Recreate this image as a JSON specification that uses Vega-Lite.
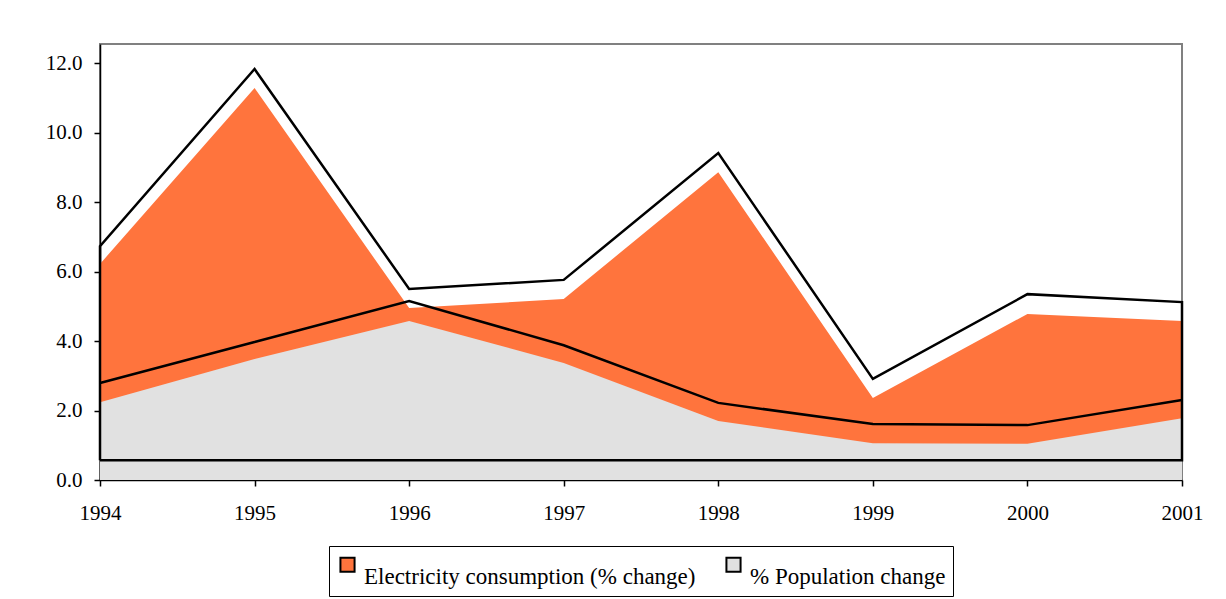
{
  "$schema": "https://vega.github.io/schema/vega-lite/v6.json",
  "width": 1082,
  "height": 436,
  "autosize": {"type": "none"},
  "padding": {"left": 100, "top": 44, "right": 44, "bottom": 119},
  "background": "white",
  "title": {"text": "(% change)", "font": "Liberation Serif", "fontSize": 21, "fontWeight": "bold", "anchor": "start", "dx": 372, "offset": 42, "baseline": "alphabetic", "color": "black"},
  "datasets": {
    "series": [
      {"year": 1994, "series": "Electricity consumption (% change)", "value": 6.22},
      {"year": 1995, "series": "Electricity consumption (% change)", "value": 11.28},
      {"year": 1996, "series": "Electricity consumption (% change)", "value": 4.95},
      {"year": 1997, "series": "Electricity consumption (% change)", "value": 5.21},
      {"year": 1998, "series": "Electricity consumption (% change)", "value": 8.86},
      {"year": 1999, "series": "Electricity consumption (% change)", "value": 2.36},
      {"year": 2000, "series": "Electricity consumption (% change)", "value": 4.78},
      {"year": 2001, "series": "Electricity consumption (% change)", "value": 4.58},
      {"year": 1994, "series": "% Population change", "value": 2.24},
      {"year": 1995, "series": "% Population change", "value": 3.48},
      {"year": 1996, "series": "% Population change", "value": 4.58},
      {"year": 1997, "series": "% Population change", "value": 3.37},
      {"year": 1998, "series": "% Population change", "value": 1.70},
      {"year": 1999, "series": "% Population change", "value": 1.06},
      {"year": 2000, "series": "% Population change", "value": 1.04},
      {"year": 2001, "series": "% Population change", "value": 1.78}
    ],
    "outline": [
      {"part": "elec", "ord": 0, "year": 1994, "value": 0.57},
      {"part": "elec", "ord": 1, "year": 1994, "value": 6.73},
      {"part": "elec", "ord": 2, "year": 1995, "value": 11.83},
      {"part": "elec", "ord": 3, "year": 1996, "value": 5.50},
      {"part": "elec", "ord": 4, "year": 1997, "value": 5.76},
      {"part": "elec", "ord": 5, "year": 1998, "value": 9.41},
      {"part": "elec", "ord": 6, "year": 1999, "value": 2.91},
      {"part": "elec", "ord": 7, "year": 2000, "value": 5.35},
      {"part": "elec", "ord": 8, "year": 2001, "value": 5.12},
      {"part": "elec", "ord": 9, "year": 2001, "value": 0.57},
      {"part": "elec", "ord": 10, "year": 1994, "value": 0.57},
      {"part": "pop", "ord": 0, "year": 1994, "value": 2.79},
      {"part": "pop", "ord": 1, "year": 1995, "value": 3.97},
      {"part": "pop", "ord": 2, "year": 1996, "value": 5.15},
      {"part": "pop", "ord": 3, "year": 1997, "value": 3.88},
      {"part": "pop", "ord": 4, "year": 1998, "value": 2.22},
      {"part": "pop", "ord": 5, "year": 1999, "value": 1.61},
      {"part": "pop", "ord": 6, "year": 2000, "value": 1.58},
      {"part": "pop", "ord": 7, "year": 2001, "value": 2.30}
    ]
  },
  "config": {
    "view": {"stroke": "#808080", "strokeWidth": 2},
    "axis": {"labelFont": "Liberation Serif", "labelFontSize": 21, "labelColor": "black", "domainColor": "black", "domainWidth": 1.5, "tickColor": "black", "tickWidth": 1.5, "grid": false, "title": null, "zindex": 1}
  },
  "layer": [
    {
      "data": {"name": "series"},
      "transform": [{"filter": "datum.series === 'Electricity consumption (% change)'"}],
      "mark": {"type": "area", "opacity": 1},
      "encoding": {
        "x": {"field": "year", "type": "quantitative", "scale": {"domain": [1994, 2001], "nice": false, "zero": false},
              "axis": {"values": [1994, 1995, 1996, 1997, 1998, 1999, 2000, 2001], "format": "d", "tickSize": 6, "labelPadding": 16, "labelFlush": false}},
        "y": {"field": "value", "type": "quantitative", "scale": {"domain": [0, 12.55], "nice": false},
              "axis": {"values": [0, 2, 4, 6, 8, 10, 12], "format": ".1f", "tickSize": 6, "labelPadding": 12}},
        "color": {"field": "series", "type": "nominal",
                  "scale": {"domain": ["Electricity consumption (% change)", "% Population change"], "range": ["#FF743D", "#E1E1E1"]},
                  "legend": {"orient": "none", "legendX": 229, "legendY": 502, "direction": "horizontal", "title": null,
                             "symbolType": "square", "symbolSize": 200, "symbolOpacity": 1,
                             "labelFont": "Liberation Serif", "labelFontSize": 23, "labelColor": "black", "labelLimit": 0,
                             "labelBaseline": "line-top", "labelLineHeight": 34, "labelOffset": 5, "columnPadding": 26,
                             "strokeColor": "black", "fillColor": "white", "padding": 7,
                             "encode": {"symbols": {"update": {"stroke": {"value": "black"}, "strokeWidth": {"value": 2}}}}}}
      }
    },
    {
      "data": {"name": "series"},
      "transform": [{"filter": "datum.series === '% Population change'"}],
      "mark": {"type": "area", "opacity": 1},
      "encoding": {
        "x": {"field": "year", "type": "quantitative"},
        "y": {"field": "value", "type": "quantitative"},
        "color": {"field": "series", "type": "nominal"}
      }
    },
    {
      "data": {"name": "outline"},
      "mark": {"type": "line", "color": "black", "strokeWidth": 2.5, "strokeJoin": "miter"},
      "encoding": {
        "x": {"field": "year", "type": "quantitative"},
        "y": {"field": "value", "type": "quantitative"},
        "detail": {"field": "part"},
        "order": {"field": "ord", "type": "quantitative"}
      }
    }
  ]
}
